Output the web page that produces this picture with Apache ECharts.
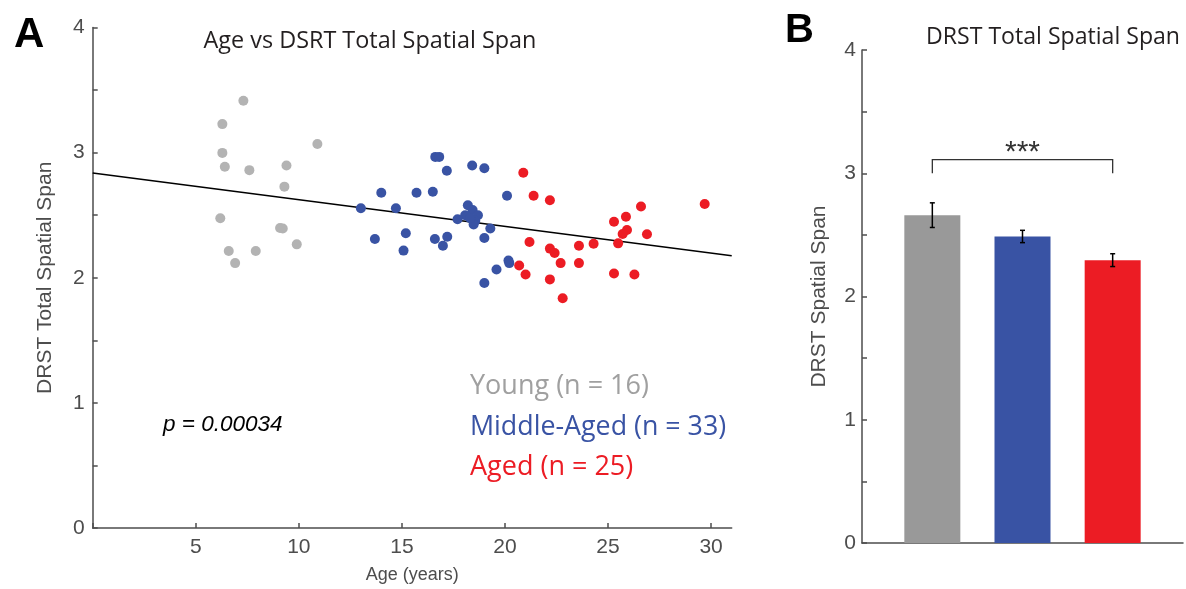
<!DOCTYPE html>
<html>
<head>
<meta charset="utf-8">
<script src="https://cdn.jsdelivr.net/npm/echarts@6/dist/echarts.min.js"></script>
<style>
html,body{margin:0;padding:0;background:#fff;}
#chart{width:1186px;height:589px;}
</style>
</head>
<body>
<div id="chart"></div>
<script>
// ---- Panel A data (age in years, DRST total spatial span) ----
const youngAge  = [7.31, 6.29, 10.90, 6.29, 6.41, 7.60, 9.40, 9.30, 6.19, 9.09, 9.22, 9.90, 6.60, 7.91, 6.91];
const youngSpan = [3.415, 3.228, 3.069, 2.998, 2.887, 2.860, 2.897, 2.728, 2.476, 2.397, 2.394, 2.267, 2.214, 2.214, 2.117];
const middleAge  = [16.62, 16.81, 17.18, 18.41, 19.00, 14.00, 15.71, 16.50, 20.10, 13.01, 14.71, 18.20, 18.43, 18.07, 18.69, 17.70, 18.56, 18.48, 19.29, 13.69, 15.19, 16.60, 17.20, 16.99, 15.08, 19.00, 20.17, 20.21, 19.59, 19.00, 18.31];
const middleSpan = [2.966, 2.966, 2.855, 2.897, 2.875, 2.680, 2.680, 2.688, 2.656, 2.556, 2.556, 2.579, 2.542, 2.500, 2.500, 2.468, 2.455, 2.426, 2.394, 2.310, 2.355, 2.310, 2.328, 2.256, 2.217, 2.317, 2.137, 2.117, 2.066, 1.958, 2.476];
const agedAge  = [20.89, 21.39, 22.18, 29.69, 26.60, 25.87, 25.29, 25.92, 25.71, 26.89, 21.19, 22.18, 22.41, 23.59, 24.30, 25.49, 20.69, 21.00, 22.70, 23.59, 22.18, 25.29, 26.28, 22.80];
const agedSpan = [2.839, 2.656, 2.619, 2.590, 2.569, 2.487, 2.447, 2.381, 2.349, 2.347, 2.286, 2.233, 2.198, 2.256, 2.272, 2.275, 2.098, 2.026, 2.117, 2.117, 1.987, 2.034, 2.026, 1.836];
const regAge  = [0, 31];
const regSpan = [2.837, 2.176];
const pValueText = 'p = 0.00034';

// ---- Panel B data ----
const groups   = ['Young', 'Middle-Aged', 'Aged'];
const groupN   = [16, 33, 25];
const barPos   = [1, 2, 3];
const barMean  = [2.66, 2.487, 2.295];
const barSem   = [0.10, 0.05, 0.052];
const bracketX = [1, 3];
const bracketY = [3.0, 3.11];
const sigText  = '***';

const GRAY = '#b3b3b3', BAR_GRAY = '#999999', BLUE = '#3953a4', RED = '#ec1c24';
const AX = '#4d4d4d';
const TITLE_FONT = '"Open Sans", sans-serif';
const AX_FONT = '"Liberation Sans", Arial, sans-serif';

const zip = (a, b) => a.map((v, i) => [v, b[i]]);

const chart = echarts.init(document.getElementById('chart'), null, {renderer: 'canvas'});

const intOnly = v => (Math.abs(v - Math.round(v)) < 1e-6 ? String(Math.round(v)) : '');

const option = {
  animation: false,
  backgroundColor: '#fff',
  grid: [
    {left: 92.7, top: 27.5, width: 639, height: 503.5},
    {left: 862, top: 50, width: 321, height: 493}
  ],
  xAxis: [
    {
      gridIndex: 0, type: 'value', min: 0, max: 31, interval: 5,
      name: 'Age (years)', nameLocation: 'middle', nameGap: 38,
      nameTextStyle: {color: AX, fontFamily: AX_FONT, fontSize: 18},
      axisLine: {show: true, onZero: false, lineStyle: {color: AX, width: 1.5}},
      axisTick: {show: true, inside: true, length: 5, lineStyle: {color: AX, width: 1.5}},
      axisLabel: {color: AX, fontFamily: AX_FONT, fontSize: 21, margin: 9,
        formatter: v => (v === 0 ? '' : String(v)), showMaxLabel: false},
      splitLine: {show: false}
    },
    {
      gridIndex: 1, type: 'value', min: 0.22, max: 3.78,
      axisLine: {show: true, onZero: false, lineStyle: {color: AX, width: 1.5}},
      axisTick: {show: true, inside: true, length: 6, customValues: barPos, lineStyle: {color: AX, width: 1.5}},
      axisLabel: {show: false},
      splitLine: {show: false}
    }
  ],
  yAxis: [
    {
      gridIndex: 0, type: 'value', min: 0, max: 4, interval: 0.5,
      name: 'DRST Total Spatial Span', nameLocation: 'middle', nameGap: 37,
      nameTextStyle: {color: AX, fontFamily: AX_FONT, fontSize: 21},
      axisLine: {show: true, onZero: false, lineStyle: {color: AX, width: 1.5}},
      axisTick: {show: true, inside: true, length: 5, lineStyle: {color: AX, width: 1.5}},
      axisLabel: {color: AX, fontFamily: AX_FONT, fontSize: 21, margin: 8, formatter: intOnly},
      splitLine: {show: false}
    },
    {
      gridIndex: 1, type: 'value', min: 0, max: 4, interval: 0.5,
      name: 'DRST Spatial Span', nameLocation: 'middle', nameGap: 32,
      nameTextStyle: {color: AX, fontFamily: AX_FONT, fontSize: 21},
      axisLine: {show: true, onZero: false, lineStyle: {color: AX, width: 1.5}},
      axisTick: {show: true, inside: true, length: 5, lineStyle: {color: AX, width: 1.5}},
      axisLabel: {color: AX, fontFamily: AX_FONT, fontSize: 21, margin: 6, formatter: intOnly},
      splitLine: {show: false}
    }
  ],
  series: [
    {
      type: 'line', xAxisIndex: 0, yAxisIndex: 0, data: zip(regAge, regSpan),
      symbol: 'none', lineStyle: {color: '#000', width: 1.5}, z: 1
    },
    {type: 'scatter', xAxisIndex: 0, yAxisIndex: 0, data: zip(youngAge, youngSpan), symbolSize: 10, itemStyle: {color: GRAY, opacity: 1}, z: 3},
    {type: 'scatter', xAxisIndex: 0, yAxisIndex: 0, data: zip(middleAge, middleSpan), symbolSize: 10, itemStyle: {color: BLUE, opacity: 1}, z: 3},
    {type: 'scatter', xAxisIndex: 0, yAxisIndex: 0, data: zip(agedAge, agedSpan), symbolSize: 10, itemStyle: {color: RED, opacity: 1}, z: 3},
    {
      type: 'bar', xAxisIndex: 1, yAxisIndex: 1, barWidth: 56,
      data: barPos.map((p, i) => ({value: [p, barMean[i]], itemStyle: {color: [BAR_GRAY, BLUE, RED][i]}})),
      z: 2
    },
    {
      type: 'custom', xAxisIndex: 1, yAxisIndex: 1, z: 5,
      data: barPos.map((p, i) => [p, barMean[i] - barSem[i], barMean[i] + barSem[i]]),
      renderItem: (params, api) => {
        const lo = api.coord([api.value(0), api.value(1)]);
        const hi = api.coord([api.value(0), api.value(2)]);
        const w = 2.5;
        const st = {stroke: '#000', lineWidth: 1.5};
        return {type: 'group', children: [
          {type: 'line', shape: {x1: lo[0], y1: lo[1], x2: hi[0], y2: hi[1]}, style: st},
          {type: 'line', shape: {x1: lo[0] - w, y1: lo[1], x2: lo[0] + w, y2: lo[1]}, style: st},
          {type: 'line', shape: {x1: hi[0] - w, y1: hi[1], x2: hi[0] + w, y2: hi[1]}, style: st}
        ]};
      }
    },
    {
      type: 'custom', xAxisIndex: 1, yAxisIndex: 1, z: 5,
      data: [[bracketX[0], bracketX[1], bracketY[0], bracketY[1]]],
      renderItem: (params, api) => {
        const a = api.coord([api.value(0), api.value(2)]);
        const b = api.coord([api.value(0), api.value(3)]);
        const c = api.coord([api.value(1), api.value(3)]);
        const d = api.coord([api.value(1), api.value(2)]);
        return {type: 'group', children: [
          {type: 'polyline', shape: {points: [a, b, c, d]}, style: {stroke: '#333', lineWidth: 1.3, fill: null}},
          {type: 'text', style: {text: sigText, x: (b[0] + c[0]) / 2, y: b[1] - 7, align: 'center', verticalAlign: 'middle',
            fill: '#333', font: '30px ' + AX_FONT}}
        ]};
      }
    }
  ],
  graphic: [
    {type: 'text', left: 14, top: 14, style: {text: 'A', fill: '#000', font: '900 42px ' + AX_FONT}},
    {type: 'text', left: 785, top: 11, style: {text: 'B', fill: '#000', font: '900 40px ' + AX_FONT}},
    {type: 'text', style: {text: 'Age vs DSRT Total Spatial Span', x: 370, y: 41, align: 'center', verticalAlign: 'middle', fill: '#231f20', font: '23.4px ' + TITLE_FONT}},
    {type: 'text', style: {text: 'DRST Total Spatial Span', x: 1053, y: 37, align: 'center', verticalAlign: 'middle', fill: '#231f20', font: '23.1px ' + TITLE_FONT}},
    {type: 'text', style: {text: groups[0] + ' (n = ' + groupN[0] + ')', x: 470, y: 386, align: 'left', verticalAlign: 'middle', fill: '#a0a0a0', font: '27px ' + TITLE_FONT}},
    {type: 'text', style: {text: groups[1] + ' (n = ' + groupN[1] + ')', x: 470, y: 427, align: 'left', verticalAlign: 'middle', fill: BLUE, font: '26.8px ' + TITLE_FONT}},
    {type: 'text', style: {text: groups[2] + ' (n = ' + groupN[2] + ')', x: 470, y: 467, align: 'left', verticalAlign: 'middle', fill: RED, font: '27px ' + TITLE_FONT}},
    {type: 'text', style: {text: pValueText, x: 163, y: 425, align: 'left', verticalAlign: 'middle', fill: '#000', font: 'italic 22.5px ' + AX_FONT}}
  ]
};
chart.setOption(option);
</script>
</body>
</html>
